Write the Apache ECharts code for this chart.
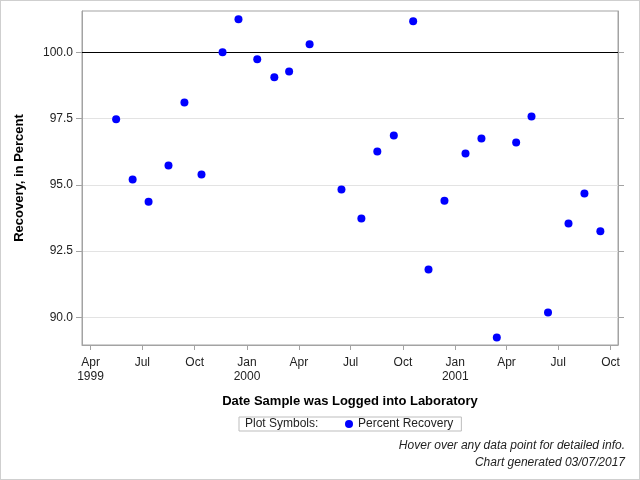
<!DOCTYPE html>
<html>
<head>
<meta charset="utf-8">
<script src="https://cdn.jsdelivr.net/npm/echarts@6/dist/echarts.min.js"></script>
<style>
html,body{margin:0;padding:0;background:#fff;}
#c{width:638px;height:478px;border:1px solid #cfcfcf;}
</style>
</head>
<body>
<div id="c"></div>
<script>
// ---- data ----
var sampleDates = ['1999-05-16','1999-06-14','1999-07-12','1999-08-16','1999-09-13','1999-10-13',
  '1999-11-19','1999-12-17','2000-01-19','2000-02-18','2000-03-15','2000-04-20',
  '2000-06-15','2000-07-20','2000-08-17','2000-09-15','2000-10-19','2000-11-15',
  '2000-12-13','2001-01-19','2001-02-16','2001-03-15','2001-04-18','2001-05-15',
  '2001-06-13','2001-07-19','2001-08-16','2001-09-13'];
var recovery = [97.47,95.20,94.36,95.73,98.11,95.39,
  100.00,101.25,99.74,99.06,99.28,100.30,
  94.82,93.73,96.26,96.86,101.17,91.80,
  94.40,96.18,96.75,89.23,96.60,97.58,
  90.18,93.54,94.67,93.24];
var tickDates = ['1999-04-01','1999-07-01','1999-10-01','2000-01-01','2000-04-01','2000-07-01',
  '2000-10-01','2001-01-01','2001-04-01','2001-07-01','2001-10-01'];
var tickLabels = ['Apr\n1999','Jul','Oct','Jan\n2000','Apr','Jul','Oct','Jan\n2001','Apr','Jul','Oct'];
var yTicks = [90.0, 92.5, 95.0, 97.5, 100.0];
var referenceValue = 100;
var xRange = ['1999-03-17','2001-10-14'];
var yRange = [88.95, 101.56];
var seriesName = 'Percent Recovery';

function ts(s){ var p = s.split('-'); return Date.UTC(+p[0], +p[1]-1, +p[2]); }
var tickTs = tickDates.map(ts);
var points = sampleDates.map(function(d,i){ return [ts(d), recovery[i]]; });

var FONT = '"Liberation Sans", Arial, sans-serif';
var axisGray = '#a3a3a3';

var chart = echarts.init(document.getElementById('c'), null, {renderer:'canvas'});
chart.setOption({
  animation: false,
  backgroundColor: '#fff',
  textStyle: { fontFamily: FONT },
  grid: { left: 81, right: 21, top: 10, bottom: 134, show: true, borderColor: axisGray, borderWidth: 1, backgroundColor: 'transparent' },
  xAxis: {
    type: 'value',
    min: ts(xRange[0]), max: ts(xRange[1]),
    name: 'Date Sample was Logged into Laboratory',
    nameLocation: 'middle', nameGap: 50,
    nameTextStyle: { fontFamily: FONT, fontSize: 13, fontWeight: 'bold', color: '#000' },
    axisLine: { show: true, lineStyle: { color: axisGray, width: 1 } },
    axisTick: { show: true, length: 5, customValues: tickTs, lineStyle: { color: axisGray } },
    axisLabel: {
      customValues: tickTs, margin: 11, color: '#222', fontSize: 12, fontFamily: FONT, lineHeight: 14,
      formatter: function(v){ var i = tickTs.indexOf(v); return i >= 0 ? tickLabels[i] : ''; }
    },
    splitLine: { show: false }
  },
  yAxis: [{
    type: 'value',
    min: yRange[0], max: yRange[1],
    name: 'Recovery, in Percent',
    nameLocation: 'middle', nameGap: 56, nameRotate: 90,
    nameTextStyle: { fontFamily: FONT, fontSize: 13, fontWeight: 'bold', color: '#000' },
    axisLine: { show: true, lineStyle: { color: axisGray } },
    axisTick: { show: true, length: 6, customValues: yTicks, lineStyle: { color: axisGray } },
    axisLabel: { customValues: yTicks, margin: 9, color: '#222', fontSize: 12, fontFamily: FONT,
      formatter: function(v){ return v.toFixed(1); } },
    splitLine: { show: true, lineStyle: { color: '#e3e3e3', width: 1 } }
  },{
    type: 'value',
    position: 'right',
    min: yRange[0], max: yRange[1],
    axisLine: { show: true, lineStyle: { color: axisGray } },
    axisTick: { show: true, length: 6, customValues: yTicks, lineStyle: { color: axisGray } },
    axisLabel: { show: false },
    splitLine: { show: false }
  }],
  legend: {
    show: true,
    left: 238, top: 416,
    orient: 'horizontal',
    padding: [1, 8, 1, 106],
    borderColor: '#bdbdbd', borderWidth: 1,
    itemWidth: 8, itemHeight: 8, itemGap: 5,
    icon: 'circle',
    textStyle: { fontFamily: FONT, fontSize: 12, color: '#222' },
    data: [seriesName]
  },
  graphic: [
    { type: 'text', left: 244, top: 417, silent: true,
      style: { text: 'Plot Symbols:', font: '12px ' + FONT, fill: '#222' } },
    { type: 'text', right: 14, top: 439, silent: true,
      style: { text: 'Hover over any data point for detailed info.', font: 'italic 12px ' + FONT, fill: '#222', textAlign: 'right' } },
    { type: 'text', right: 14, top: 456, silent: true,
      style: { text: 'Chart generated 03/07/2017', font: 'italic 12px ' + FONT, fill: '#222', textAlign: 'right' } }
  ],
  series: [{
    name: 'Reference',
    type: 'line',
    z: 1,
    data: [],
    markLine: {
      z: 1,
      silent: true, symbol: ['none','none'], label: { show: false },
      lineStyle: { color: '#000', width: 1, type: 'solid' },
      data: [{ yAxis: referenceValue }]
    }
  },{
    name: seriesName,
    type: 'scatter',
    z: 3,
    symbol: 'circle', symbolSize: 8,
    itemStyle: { color: '#0000ff', opacity: 1 },
    data: points
  }]
});
</script>
</body>
</html>
